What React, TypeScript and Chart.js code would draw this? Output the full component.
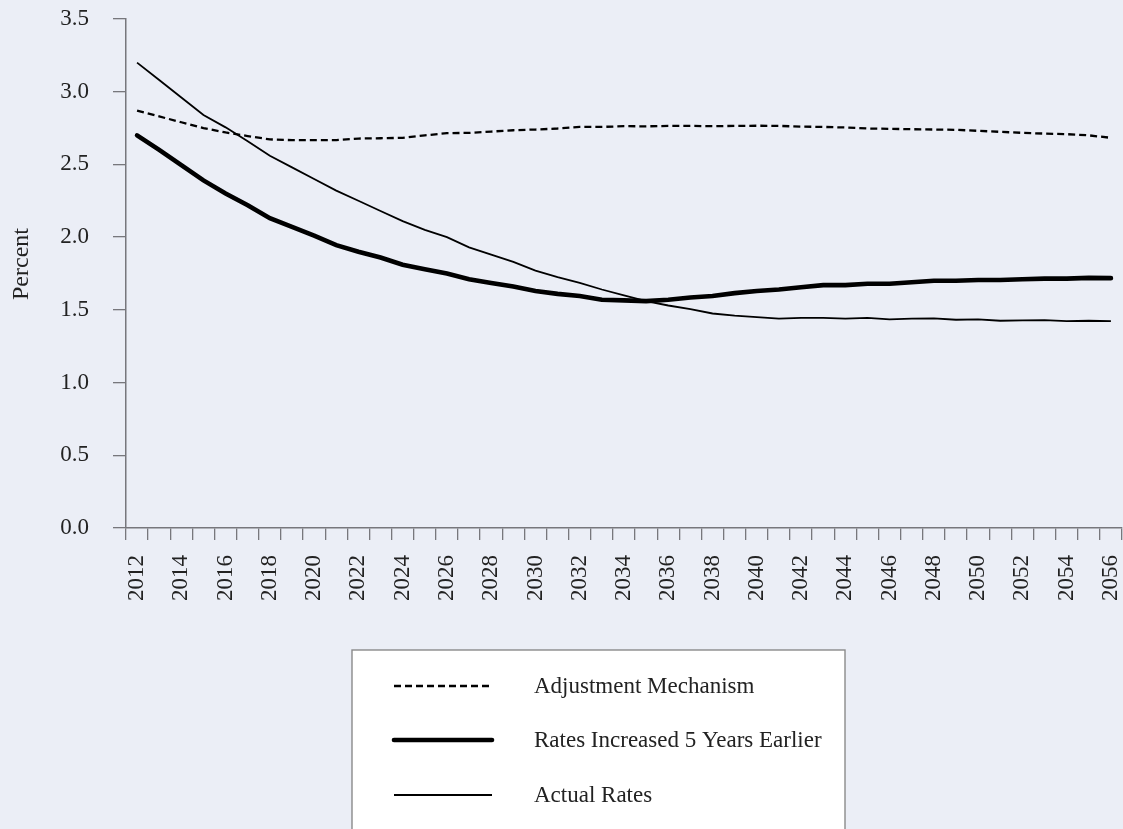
import React, { useEffect, useRef } from "react";
import { Chart, registerables } from "chart.js";

Chart.register(...registerables);

const years: string[] = [
  "2012","2013","2014","2015","2016","2017","2018","2019","2020","2021",
  "2022","2023","2024","2025","2026","2027","2028","2029","2030","2031",
  "2032","2033","2034","2035","2036","2037","2038","2039","2040","2041",
  "2042","2043","2044","2045","2046","2047","2048","2049","2050","2051",
  "2052","2053","2054","2055","2056",
];

const adjustmentMechanism: number[] = [
  2.87, 2.83, 2.79, 2.75, 2.72, 2.695, 2.672, 2.667, 2.667, 2.667,
  2.678, 2.68, 2.683, 2.7, 2.715, 2.717, 2.726, 2.735, 2.74, 2.747,
  2.758, 2.758, 2.763, 2.762, 2.765, 2.765, 2.763, 2.765, 2.766, 2.765,
  2.76, 2.758, 2.754, 2.747, 2.745, 2.742, 2.74, 2.738, 2.731, 2.724,
  2.717, 2.712, 2.708, 2.7, 2.683,
];

const ratesIncreasedEarlier: number[] = [
  2.70, 2.60, 2.495, 2.39, 2.30, 2.22, 2.13, 2.07, 2.01, 1.945,
  1.90, 1.86, 1.81, 1.78, 1.75, 1.71, 1.685, 1.66, 1.63, 1.61,
  1.595, 1.57, 1.565, 1.56, 1.57, 1.585, 1.595, 1.615, 1.63, 1.64,
  1.655, 1.67, 1.67, 1.68, 1.68, 1.69, 1.70, 1.70, 1.705, 1.705,
  1.71, 1.715, 1.715, 1.72, 1.718,
];

const actualRates: number[] = [
  3.20, 3.08, 2.96, 2.84, 2.755, 2.66, 2.56, 2.48, 2.40, 2.32,
  2.25, 2.18, 2.11, 2.05, 2.00, 1.93, 1.88, 1.83, 1.77, 1.725,
  1.685, 1.64, 1.60, 1.56, 1.53, 1.505, 1.475, 1.46, 1.45, 1.44,
  1.445, 1.445, 1.44, 1.445, 1.435, 1.44, 1.442, 1.432, 1.435, 1.425,
  1.427, 1.43, 1.422, 1.425, 1.422,
];

const seriesLabels: string[] = [
  "Adjustment Mechanism",
  "Rates Increased 5 Years Earlier",
  "Actual Rates",
];

const yAxisTitle = "Percent";

const FONT = "'Liberation Serif', 'Times New Roman', serif";
const TEXT = "#222222";
const AXIS = "#77777c";
const BG = "rgb(235,238,246)";

const yTitlePlugin = {
  id: "yTitle",
  afterDraw(chart: any) {
    const ctx = chart.ctx;
    ctx.save();
    ctx.translate(22, 264);
    ctx.rotate(-Math.PI / 2);
    ctx.fillStyle = TEXT;
    ctx.font = `24px ${FONT}`;
    ctx.textAlign = "center";
    ctx.textBaseline = "middle";
    ctx.fillText(yAxisTitle, 0, 0);
    ctx.restore();
  },
};

const legendBoxPlugin = {
  id: "legendBox",
  afterDraw(chart: any) {
    const ctx = chart.ctx;
    ctx.save();
    const bx = 352, by = 650, bw = 493, bh = 200;
    ctx.fillStyle = "#ffffff";
    ctx.fillRect(bx, by, bw, bh);
    ctx.strokeStyle = "#8a8a8a";
    ctx.lineWidth = 1.4;
    ctx.strokeRect(bx, by, bw, bh);
    const rows = [686, 740, 795];
    chart.data.datasets.forEach((ds: any, i: number) => {
      const y = rows[i];
      ctx.beginPath();
      ctx.strokeStyle = ds.borderColor;
      ctx.lineWidth = ds.borderWidth;
      ctx.lineCap = ds.borderWidth > 3 ? "round" : "butt";
      ctx.setLineDash(ds.borderDash || []);
      ctx.moveTo(394, y);
      ctx.lineTo(492, y);
      ctx.stroke();
      ctx.setLineDash([]);
      ctx.fillStyle = TEXT;
      ctx.font = `23px ${FONT}`;
      ctx.textBaseline = "middle";
      ctx.textAlign = "left";
      ctx.fillText(ds.label, 534, y + 1);
    });
    ctx.restore();
  },
};

export default function App() {
  const canvasRef = useRef<HTMLCanvasElement | null>(null);

  useEffect(() => {
    if (!canvasRef.current) return;
    const chart = new Chart(canvasRef.current, {
      type: "line",
      data: {
        labels: years,
        datasets: [
          {
            label: seriesLabels[0],
            data: adjustmentMechanism,
            borderColor: "#000000",
            borderWidth: 2.3,
            borderDash: [7, 4],
            pointRadius: 0,
            tension: 0,
            fill: false,
          },
          {
            label: seriesLabels[1],
            data: ratesIncreasedEarlier,
            borderColor: "#000000",
            borderWidth: 4.6,
            pointRadius: 0,
            tension: 0,
            fill: false,
            borderCapStyle: "round",
          },
          {
            label: seriesLabels[2],
            data: actualRates,
            borderColor: "#000000",
            borderWidth: 1.8,
            pointRadius: 0,
            tension: 0,
            fill: false,
          },
        ],
      },
      options: {
        animation: false,
        responsive: true,
        maintainAspectRatio: false,
        layout: { padding: { top: 19, right: 1, bottom: 0, left: 0 } },
        plugins: {
          legend: { display: false },
          tooltip: { enabled: false },
        },
        scales: {
          x: {
            type: "category",
            offset: true,
            grid: {
              offset: true,
              drawOnChartArea: false,
              drawTicks: true,
              tickLength: 12,
              color: AXIS,
              lineWidth: 1.3,
            },
            border: { display: true, color: AXIS, width: 1.5 },
            ticks: {
              autoSkip: false,
              minRotation: 90,
              maxRotation: 90,
              padding: 15,
              color: TEXT,
              font: { family: FONT, size: 23 },
              callback: (_v: any, i: number) => (i % 2 === 0 ? years[i] : ""),
            },
            afterFit: (scale: any) => {
              scale.height = 301;
              scale.paddingLeft = 0;
              scale.paddingRight = 0;
            },
          },
          y: {
            min: 0,
            max: 3.5,
            grid: {
              drawOnChartArea: false,
              drawTicks: true,
              tickLength: 13,
              color: AXIS,
              lineWidth: 1.3,
            },
            border: { display: true, color: AXIS, width: 1.5 },
            ticks: {
              stepSize: 0.5,
              padding: 24,
              color: TEXT,
              font: { family: FONT, size: 23 },
              callback: (v: any) => Number(v).toFixed(1),
            },
            title: { display: false },
            afterFit: (scale: any) => {
              scale.width = 126;
              scale.paddingTop = 0;
              scale.paddingBottom = 0;
            },
          },
        },
      },
      plugins: [yTitlePlugin, legendBoxPlugin],
    });
    return () => chart.destroy();
  }, []);

  return (
    <div
      style={{
        position: "absolute",
        left: 0,
        top: 0,
        width: 1123,
        height: 829,
        background: BG,
        overflow: "hidden",
      }}
    >
      <canvas ref={canvasRef} />
    </div>
  );
}
